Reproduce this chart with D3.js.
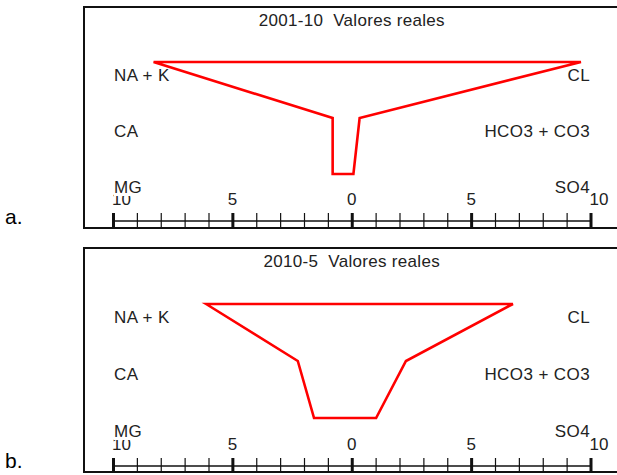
<!DOCTYPE html>
<html>
<head>
<meta charset="utf-8">
<script src="https://cdn.jsdelivr.net/npm/d3@7"></script>
<style>
    body { margin: 0; background: #fff; }
    text { font-family: "Liberation Sans", Arial, sans-serif; fill: #222; }
</style>
</head>
<body>
<div id="chart"></div>
<script>
'use strict';

// stiff diagrams, meq/l
var panelNames = ['a.', 'b.'];
var panelTitles = ['2001-10  Valores reales', '2010-5  Valores reales'];
var cations = ['NA + K', 'CA', 'MG'];
var anions = ['CL', 'HCO3 + CO3', 'SO4'];
var cationValues = [[8.3, 0.8, 0.8], [6.1, 2.26, 1.58]];
var anionValues = [[9.6, 0.33, 0.07], [6.75, 2.27, 1.02]];
var tickValues = d3.range(-10, 11);
var tickLabels = [-10, -5, 0, 5, 10];

var w = 617;
var h = 475;
var layout = [
    { top: 7, bottom: 228, levels: [62, 174], axisY: 221 },
    { top: 248, bottom: 472, levels: [304, 418], axisY: 466 }
];

var x = d3.scaleLinear().domain([-10, 10]).range([113, 590.5]);

var svg = d3.select('#chart').append('svg').attr('width', w).attr('height', h);

panelNames.forEach(function (name, i) {
    drawPanel(i);
});

////////////

function drawPanel(i) {
    var p = layout[i];
    var g = svg.append('g').attr('class', 'panel');
    var y = d3.scalePoint().domain(d3.range(3)).range(p.levels);

    g.append('rect')
        .attr('x', 84)
        .attr('y', p.top)
        .attr('width', 560)
        .attr('height', p.bottom - p.top)
        .attr('fill', 'none')
        .attr('stroke', '#111')
        .attr('stroke-width', 2);

    g.append('text')
        .attr('x', 5)
        .attr('y', p.bottom - 4)
        .style('font-family', 'Arial, "Liberation Sans", sans-serif')
        .style('font-size', '21px')
        .style('fill', '#000')
        .text(panelNames[i]);

    g.append('text')
        .attr('x', x(0))
        .attr('y', p.top + 19)
        .attr('text-anchor', 'middle')
        .style('font-size', '17px')
        .style('letter-spacing', '0.3px')
        .style('white-space', 'pre')
        .text(panelTitles[i]);

    // axis
    var axis = d3.axisBottom(x).tickValues(tickValues).tickSize(0).tickFormat('');
    var ag = g.append('g').attr('transform', 'translate(0,' + p.axisY + ')').call(axis);
    ag.select('.domain').remove();
    ag.append('line')
        .attr('x1', x(-10)).attr('x2', x(10))
        .attr('stroke', '#111').attr('stroke-width', 1.3);
    ag.selectAll('.tick line')
        .attr('y1', -8)
        .attr('y2', 6)
        .attr('stroke', '#111')
        .attr('stroke-width', function (d) { return d % 5 === 0 ? 3 : 1.2; });

    g.selectAll('.ticklabel')
        .data(tickLabels)
        .enter()
        .append('text')
        .attr('class', 'ticklabel')
        .attr('x', function (d) { return Math.abs(d) === 10 ? x(d) - 1 : x(d); })
        .attr('y', p.axisY - 16.5)
        .attr('text-anchor', function (d) { return Math.abs(d) === 10 ? 'start' : 'middle'; })
        .style('font-size', '17px')
        .text(function (d) { return Math.abs(d); });

    // ion labels, white box behind so they sit over the scale numbers
    labels(g, cations, y, 114, 'start');
    labels(g, anions, y, 590, 'end');

    // polygon
    var pts = [];
    cationValues[i].forEach(function (v, k) { pts.push([x(-v), y(k)]); });
    anionValues[i].slice().reverse().forEach(function (v, k) { pts.push([x(v), y(2 - k)]); });

    g.append('path')
        .attr('d', d3.line().curve(d3.curveLinearClosed)(pts))
        .attr('fill', 'none')
        .attr('stroke', '#ff0000')
        .attr('stroke-width', 2.6)
        .attr('stroke-linejoin', 'miter');
}

function labels(g, names, y, xPos, anchor) {
    names.forEach(function (n, k) {
        var t = g.append('text')
            .attr('x', xPos)
            .attr('y', y(k) + 19)
            .attr('text-anchor', anchor)
            .style('font-size', '17px')
            .style('letter-spacing', '0.4px')
            .text(n);
        var b = t.node().getBBox();
        g.insert('rect', function () { return t.node(); })
            .attr('x', b.x)
            .attr('y', b.y + 2)
            .attr('width', b.width)
            .attr('height', b.height - 3)
            .attr('fill', '#fff');
    });
}
</script>
</body>
</html>
